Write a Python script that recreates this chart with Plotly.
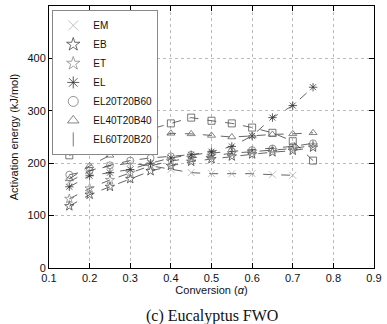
import plotly.graph_objects as go

conversion = [0.15, 0.2, 0.25, 0.3, 0.35, 0.4, 0.45, 0.5, 0.55, 0.6, 0.65, 0.7, 0.75]

series_names = ["EM", "EB", "ET", "EL", "EL20T20B60", "EL40T20B40", "EL60T20B20"]
EM = [165, 185, 195, 200, 195, 188, 182, 180, 180, 180, 178, 177]
EB = [118, 140, 155, 170, 185, 195, 203, 208, 213, 217, 221, 224, 230]
ET = [132, 152, 168, 182, 195, 204, 210, 214, 219, 222, 225, 228, 234]
EL = [155, 176, 182, 188, 200, 210, 216, 222, 232, 252, 287, 310, 345]
EL20T20B60 = [178, 186, 196, 205, 210, 213, 216, 219, 222, 225, 228, 232, 238]
EL40T20B40 = [170, 195, 215, 233, 246, 257, 256, 253, 250, 252, 255, 256, 258]
EL60T20B20 = [215, 226, 237, 250, 265, 276, 287, 281, 276, 268, 258, 242, 205]

values = [EM, EB, ET, EL, EL20T20B60, EL40T20B40, EL60T20B20]
symbols = ["x-thin-open", "star-open", "star-open", "asterisk-open",
           "circle-open", "triangle-up-open", "square-open"]
legend_symbols = ["x-thin-open", "star-open", "star-open", "asterisk-open",
                  "circle-open", "triangle-up-open", "line-ns-open"]
mcolors = ["#b0b0b0", "#444444", "#8a8a8a", "#333333", "#777777", "#666666", "#555555"]

fig = go.Figure()
for name, vals, sym, lsym, col in zip(series_names, values, symbols, legend_symbols, mcolors):
    fig.add_trace(go.Scatter(
        x=conversion[:len(vals)], y=vals, mode="lines+markers", showlegend=False,
        line=dict(color="#222222", width=0.7, dash="dash"),
        marker=dict(symbol=sym, size=7, color=col, line=dict(color=col, width=0.8)),
    ))
    fig.add_trace(go.Scatter(
        x=[None], y=[None], mode="markers", name=name,
        marker=dict(symbol=lsym, size=10, color=col, line=dict(color=col, width=0.8)),
    ))

axis_font = dict(family="Liberation Sans, Arial", size=11, color="#111111")
fig.update_layout(
    width=387, height=324,
    margin=dict(l=49, r=9, t=5, b=56),
    paper_bgcolor="white", plot_bgcolor="white",
    font=axis_font,
    legend=dict(x=0.01, y=0.985, xanchor="left", yanchor="top",
                bgcolor="white", bordercolor="#888888", borderwidth=1,
                font=dict(family="Liberation Sans, Arial", size=10, color="#111111"),
                tracegroupgap=0, itemwidth=30),
    xaxis=dict(range=[0.1, 0.9], tickvals=[0.1, 0.2, 0.3, 0.4, 0.5, 0.6, 0.7, 0.8, 0.9],
               ticktext=["0.1", "0.2", "0.3", "0.4", "0.5", "0.6", "0.7", "0.8", "0.9"],
               showline=True, linecolor="black", linewidth=1, mirror="ticks",
               ticks="inside", ticklen=5, tickcolor="black",
               showgrid=True, gridcolor="#bbbbbb", griddash="dot", gridwidth=1,
               zeroline=False,
               title=dict(text="Conversion (<i>α</i>)", font=axis_font, standoff=2)),
    yaxis=dict(range=[0, 500], tickvals=[0, 100, 200, 300, 400, 500],
               showline=True, linecolor="black", linewidth=1, mirror="ticks",
               ticks="inside", ticklen=5, tickcolor="black",
               showgrid=True, gridcolor="#bbbbbb", griddash="dot", gridwidth=1,
               zeroline=False,
               title=dict(text="Activation energy (kJ/mol)", font=axis_font, standoff=6)),
)
fig.add_annotation(text="(c) Eucalyptus FWO", xref="paper", yref="paper",
                   x=0.5, y=0, yshift=-37, xanchor="center", yanchor="top",
                   showarrow=False,
                   font=dict(family="Liberation Serif, Times New Roman", size=16, color="#111111"))

fig.write_html("out.html")
